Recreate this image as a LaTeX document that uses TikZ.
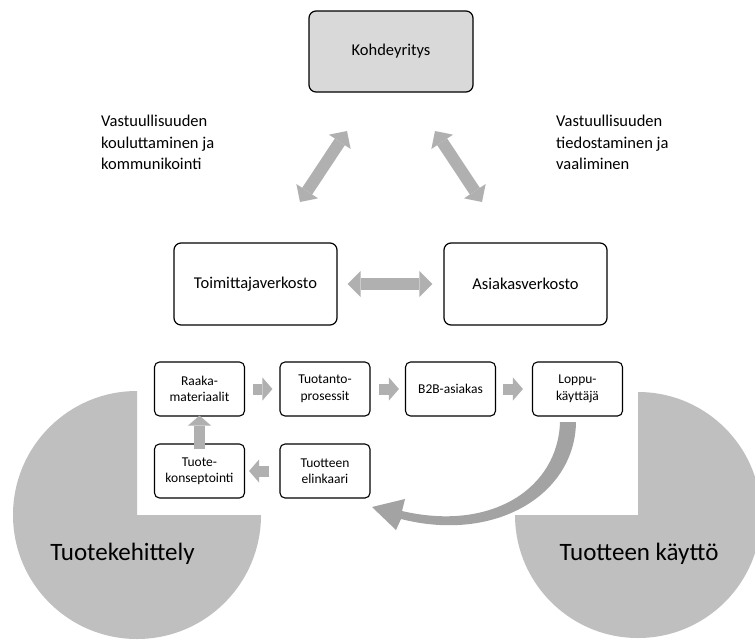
\documentclass[tikz,border=0pt]{standalone}
\usepackage{fontspec}
\setmainfont{Carlito}
\usetikzlibrary{arrows.meta}
\definecolor{boxfill}{HTML}{D9D9D9}
\definecolor{piefill}{HTML}{BFBFBF}
\definecolor{arrfill}{HTML}{B0B0B0}
\definecolor{curvefill}{HTML}{A3A3A3}
\begin{document}
\begin{tikzpicture}[x=1pt,y=-1pt,
  bigbox/.style={draw=black, line width=1.2pt, rounded corners=7pt, minimum width=163pt, minimum height=82pt, inner sep=0pt, font=\fontsize{16.5}{20}\selectfont},
  smallbox/.style={draw=black, line width=1.1pt, rounded corners=5pt, minimum width=90pt, minimum height=54pt, inner sep=0pt, align=center, font=\fontsize{13.5}{16.5}\selectfont},
  sidelabel/.style={anchor=north west, inner sep=0pt, align=left, font=\fontsize{16.5}{21.5}\selectfont},
  pielabel/.style={anchor=base, inner sep=0pt, font=\fontsize{25}{30}\selectfont},
  bigarrow/.style={draw=arrfill, line width=12pt, {Triangle[width=26pt,length=13pt,line width=0pt]}-{Triangle[width=26pt,length=13pt,line width=0pt]}},
  smallarrow/.style={draw=arrfill, line width=11pt, -{Triangle[width=23pt,length=10pt,line width=0pt]}}
]
\useasboundingbox (0,0) rectangle (755,640);
\fill[white] (0,0) rectangle (755,640);

% pies
\fill[piefill] (137,515) -- ++(0:124) arc[start angle=0, end angle=270, radius=124] -- cycle;
\fill[piefill] (638,515) -- ++(270:123) arc[start angle=270, end angle=540, radius=123] -- cycle;
\node[pielabel] (pl) at (122.5,560) {Tuotekehittely};
\node[pielabel] (pr) at (639,560) {Tuotteen käyttö};

% top part
\node[bigbox, fill=boxfill, minimum width=164pt, minimum height=81pt] (kohde) at (391,51.5) {Kohdeyritys};
\node[bigbox] (toim) at (255.5,284) {Toimittajaverkosto};
\node[bigbox] (asiak) at (525.5,284) {Asiakasverkosto};

\node[sidelabel] (lt) at (101,115) {Vastuullisuuden\\kouluttaminen ja\\kommunikointi};
\node[sidelabel] (rt) at (556,115) {Vastuullisuuden\\tiedostaminen ja\\vaaliminen};

\coordinate (dl1) at (300,202);
\coordinate (dl2) at (347,131);
\coordinate (dr1) at (435,131);
\coordinate (dr2) at (482,202);
\draw[bigarrow] (dl1) -- (dl2);
\draw[bigarrow] (dr1) -- (dr2);
\draw[bigarrow] ([xshift=10pt]toim.east) -- ([xshift=-11pt]asiak.west);

% small boxes
\node[smallbox] (raaka) at (199.5,389) {Raaka-\\materiaalit};
\node[smallbox] (tuot) at (325,389) {Tuotanto-\\prosessit};
\node[smallbox] (b2b) at (450.5,389) {B2B-asiakas};
\node[smallbox] (loppu) at (577.5,389) {Loppu-\\käyttäjä};
\node[smallbox] (konsept) at (199.5,471) {Tuote-\\konseptointi};
\node[smallbox] (elink) at (325,471) {Tuotteen\\elinkaari};

\draw[smallarrow] ([xshift=8pt]raaka.east) -- ([xshift=-7pt]tuot.west);
\draw[smallarrow] ([xshift=8pt]tuot.east) -- ([xshift=-6pt]b2b.west);
\draw[smallarrow] ([xshift=7pt]b2b.east) -- ([xshift=-9pt]loppu.west);
\draw[smallarrow] ([xshift=-10pt]elink.west) -- ([xshift=4pt]konsept.east);
\draw[smallarrow] ([yshift=-6pt]konsept.north) -- ([yshift=1pt]raaka.south);

% curved feedback arrow
\fill[curvefill] (576,422) .. controls (575,495) and (495,543) .. (401,519)
  -- (396,530) -- (372,507) -- (405,499) -- (402,511)
  .. controls (492,532) and (558,488) .. (560,422) -- cycle;
\end{tikzpicture}
\end{document}
